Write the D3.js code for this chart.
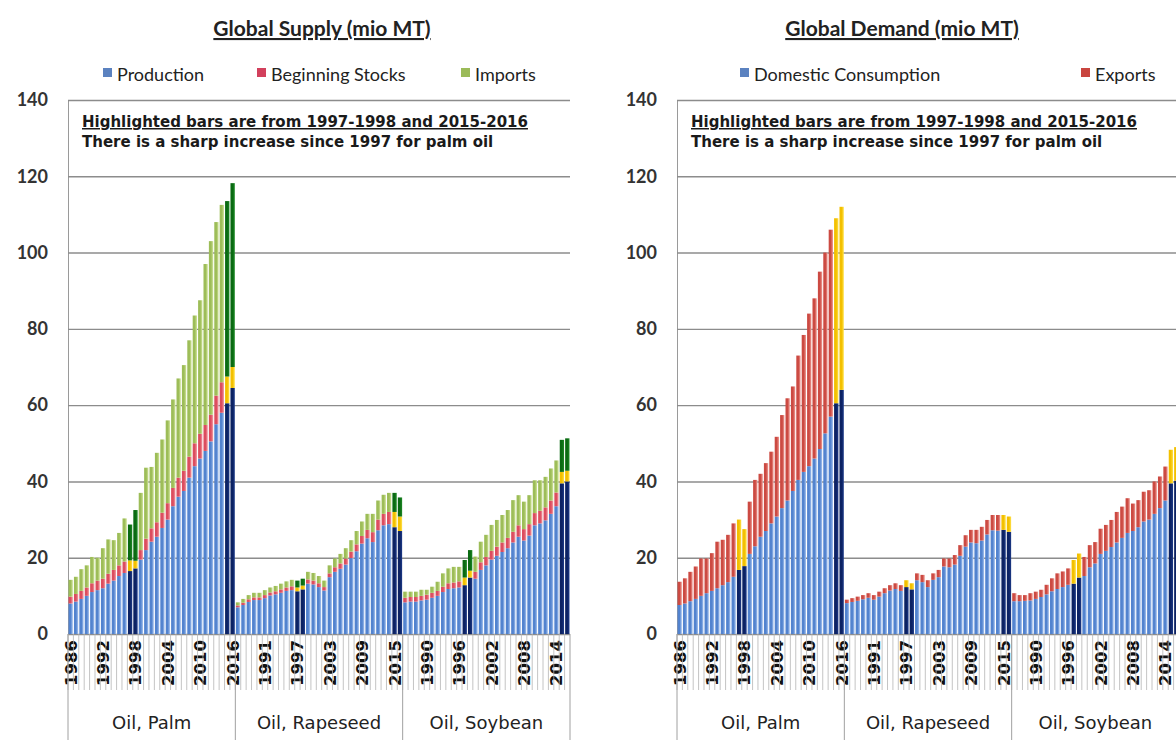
<!DOCTYPE html>
<html>
<head>
<meta charset="utf-8">
<script src="https://cdn.jsdelivr.net/npm/d3@7"></script>
<style>
  body { margin: 0; background: #fff; }
  svg { display: block; }
</style>
</head>
<body>
<div id="chart"></div>
<script>
// categories
const groups = ["Oil, Palm", "Oil, Rapeseed", "Oil, Soybean"];
const years = [1986, 1987, 1988, 1989, 1990, 1991, 1992, 1993, 1994, 1995, 1996, 1997, 1998, 1999, 2000, 2001,
               2002, 2003, 2004, 2005, 2006, 2007, 2008, 2009, 2010, 2011, 2012, 2013, 2014, 2015, 2016];
const highlightYears = [1997, 1998, 2015, 2016];
const yTicks = [0, 20, 40, 60, 80, 100, 120, 140];

// global supply (mio MT)
const palmProduction = [8.0, 8.5, 9.2, 10.0, 11.0, 11.5, 12.0, 13.2, 14.0, 15.2, 16.0, 16.5, 17.2, 19.5, 22.0, 24.2,
                        25.5, 27.8, 30.0, 33.5, 36.0, 37.5, 41.0, 44.0, 46.0, 48.0, 50.5, 55.0, 58.0, 60.5, 64.5];
const palmStocks     = [1.8, 2.0, 2.1, 2.2, 2.3, 2.5, 2.5, 2.6, 2.8, 2.8, 3.0, 2.8, 2.0, 2.5, 3.0, 3.5,
                        3.8, 4.0, 4.3, 4.8, 5.0, 5.3, 5.5, 6.0, 6.5, 6.8, 7.0, 7.5, 8.0, 7.0, 5.5];
const palmImports    = [4.4, 4.5, 5.7, 5.8, 6.9, 6.0, 8.0, 9.0, 7.8, 8.5, 11.3, 9.4, 13.3, 15.0, 18.6, 16.1,
                        18.2, 19.2, 21.7, 23.2, 26.0, 27.7, 30.5, 33.5, 35.0, 42.2, 45.5, 45.5, 46.5, 46.0, 48.2];

const rapeProduction = [7.0, 7.6, 8.4, 8.9, 8.9, 9.4, 10.1, 10.4, 10.8, 11.3, 11.5, 11.2, 11.7, 13.2, 13.0, 12.3,
                        11.4, 14.9, 16.3, 17.1, 18.2, 19.9, 21.7, 23.7, 25.1, 24.1, 27.2, 28.5, 28.8, 28.0, 27.0];
const rapeStocks     = [0.5, 0.6, 0.7, 0.7, 0.7, 0.8, 0.8, 0.8, 0.9, 0.9, 1.0, 1.0, 1.0, 1.1, 1.0, 1.0,
                        0.9, 1.0, 1.2, 1.4, 1.6, 1.7, 1.8, 2.0, 2.2, 2.6, 2.8, 3.0, 3.2, 4.0, 3.8];
const rapeImports    = [0.8, 1.0, 1.1, 1.2, 1.2, 1.3, 1.3, 1.4, 1.5, 1.6, 1.7, 1.8, 1.8, 2.0, 2.0, 1.9,
                        1.7, 2.1, 2.3, 2.5, 2.7, 3.0, 3.5, 3.8, 4.2, 4.8, 5.0, 5.0, 5.0, 5.0, 5.0];

const soyProduction  = [8.3, 8.5, 8.5, 8.8, 9.0, 9.5, 10.0, 11.0, 11.8, 12.0, 12.2, 12.8, 14.8, 14.5, 16.8, 18.0,
                        19.5, 20.5, 21.5, 22.5, 24.0, 25.5, 24.5, 25.8, 28.5, 29.0, 29.8, 31.5, 33.5, 39.5, 40.0];
const soyStocks      = [1.2, 1.2, 1.2, 1.2, 1.3, 1.3, 1.3, 1.4, 1.5, 1.5, 1.6, 2.0, 1.8, 1.8, 2.0, 2.2,
                        2.3, 2.4, 2.5, 2.7, 2.8, 3.0, 3.0, 3.0, 3.2, 3.3, 3.4, 3.5, 3.6, 3.0, 2.8];
const soyImports     = [1.6, 1.4, 1.4, 1.6, 1.3, 1.6, 2.4, 3.5, 3.9, 4.1, 3.8, 4.6, 5.4, 4.0, 5.4, 5.8,
                        6.8, 7.0, 7.2, 7.3, 8.3, 7.9, 7.2, 7.6, 8.6, 8.0, 8.0, 8.4, 8.4, 8.4, 8.5];

// global demand (mio MT)
const palmConsumption = [7.6, 8.0, 8.6, 9.2, 10.0, 10.7, 11.3, 12.0, 12.8, 13.6, 15.0, 16.8, 17.8, 21.0, 23.0, 25.5,
                         27.0, 29.0, 30.8, 33.0, 35.0, 37.5, 40.4, 42.5, 44.0, 46.0, 48.5, 52.6, 57.0, 60.5, 64.0];
const palmExports     = [6.1, 6.6, 7.7, 8.5, 9.8, 9.1, 9.9, 12.2, 11.9, 12.4, 14.0, 13.2, 9.7, 13.7, 17.4, 16.5,
                         17.8, 18.8, 20.9, 24.4, 26.8, 27.4, 32.6, 35.9, 40.0, 42.0, 46.5, 47.4, 49.0, 48.5, 48.0];

const rapeConsumption = [8.1, 8.4, 8.7, 9.1, 9.5, 9.0, 9.8, 10.7, 11.4, 11.8, 11.3, 12.3, 11.7, 14.1, 13.6, 12.3,
                         14.2, 14.9, 17.7, 17.5, 18.2, 20.5, 22.9, 24.0, 23.8, 24.5, 26.1, 27.2, 27.1, 27.3, 26.8];
const rapeExports     = [0.9, 1.0, 1.1, 1.1, 1.2, 1.2, 1.3, 1.3, 1.4, 1.5, 1.5, 1.8, 1.6, 1.8, 1.9, 1.8,
                         1.7, 1.9, 2.1, 2.3, 2.5, 2.8, 3.0, 3.3, 3.5, 3.6, 3.8, 4.0, 4.1, 3.9, 4.0];

const soyConsumption  = [8.6, 8.6, 8.7, 8.8, 9.2, 9.7, 10.4, 11.2, 11.8, 12.3, 12.9, 13.2, 14.8, 15.2, 17.5, 18.5,
                         21.0, 21.8, 22.8, 24.0, 25.2, 26.5, 27.0, 28.0, 29.5, 30.0, 31.5, 33.0, 35.0, 39.5, 40.2];
const soyExports      = [2.1, 1.6, 1.5, 1.9, 1.9, 1.9, 2.5, 3.4, 4.1, 4.1, 4.3, 6.2, 6.3, 5.0, 5.8, 5.6,
                         6.6, 6.8, 7.1, 8.0, 8.2, 9.1, 7.2, 7.1, 7.8, 7.7, 8.5, 8.3, 8.9, 8.8, 8.8];

const width = 1176, height = 747;
const plotW = 502, plotTop = 100, plotBottom = 634;
const labelFont = "'DejaVu Sans', Verdana, sans-serif";
const calFont = "Lato, 'Liberation Sans', sans-serif";

const svg = d3.select("#chart").append("svg")
    .attr("width", width)
    .attr("height", height);

const defs = svg.append("defs");
function grad(id, c0, c1) {
  const lg = defs.append("linearGradient").attr("id", id)
      .attr("x1", "0").attr("x2", "1").attr("y1", "0").attr("y2", "0");
  lg.append("stop").attr("offset", "0%").attr("stop-color", c0);
  lg.append("stop").attr("offset", "50%").attr("stop-color", c0);
  lg.append("stop").attr("offset", "100%").attr("stop-color", c1);
}
grad("g-blue", "#5283cf", "#aac6f0");
grad("g-pink", "#dc4d5e", "#f3a2ab");
grad("g-green", "#9dbd58", "#d3e69f");
grad("g-red", "#cc4a42", "#f0a09a");
grad("h-navy", "#0c2263", "#1d3a88");
grad("h-yellow", "#f3c000", "#ffe24d");
grad("h-green", "#0a6a12", "#1e8a26");

function buildRows(seriesByGroup, keys) {
  const rows = [];
  groups.forEach((g, gi) => {
    years.forEach((yr, i) => {
      const row = {key: g + "|" + yr, group: g, year: yr};
      keys.forEach((k, ki) => { row[k] = seriesByGroup[gi][ki][i]; });
      rows.push(row);
    });
  });
  return rows;
}

function drawPanel(cfg) {
  const g = svg.append("g").attr("transform", `translate(${cfg.left},0)`);
  const rows = buildRows(cfg.series, cfg.keys);

  const x = d3.scaleBand().domain(rows.map(d => d.key)).range([0, plotW]).padding(0);
  const y = d3.scaleLinear().domain([0, 140]).range([plotBottom, plotTop]);
  const bw = x.bandwidth();

  // gridlines + y labels
  const yAxis = g.append("g")
      .call(d3.axisLeft(y).tickValues(yTicks).tickSize(-plotW).tickSizeOuter(0).tickPadding(20));
  yAxis.select(".domain").attr("stroke", "#9a9a9a").attr("stroke-width", 1);
  yAxis.selectAll(".tick line").attr("stroke", "#8c8c8c").attr("stroke-width", 1.4);
  yAxis.selectAll(".tick text")
      .attr("fill", "#333").attr("font-family", calFont)
      .attr("font-weight", "bold").attr("font-size", 18);

  // stacked bars
  const stacked = d3.stack().keys(cfg.keys)(rows);
  g.append("g").selectAll("g")
    .data(stacked)
    .join("g")
    .each(function(layer, li) {
      d3.select(this).selectAll("rect")
        .data(layer)
        .join("rect")
          .attr("x", d => x(d.data.key) + bw * 0.1)
          .attr("width", bw * 0.8)
          .attr("y", d => y(d[1]))
          .attr("height", d => y(d[0]) - y(d[1]))
          .attr("fill", d => highlightYears.includes(d.data.year)
                ? `url(#${cfg.hiFills[li]})` : `url(#${cfg.fills[li]})`);
    });

  // category axis
  const labelKeys = rows.filter((d, i) => i % 6 === 0).map(d => d.key);
  const xAxis = g.append("g").attr("transform", `translate(0,${plotBottom})`)
      .call(d3.axisBottom(x).tickValues(labelKeys).tickSize(0).tickFormat(k => k.split("|")[1]));
  xAxis.select(".domain").remove();
  xAxis.selectAll(".tick text")
      .attr("transform", "rotate(-90)")
      .attr("text-anchor", "end")
      .attr("x", -6).attr("y", 0).attr("dy", "0.36em")
      .attr("fill", "#111")
      .attr("font-family", labelFont)
      .attr("font-weight", "bold").attr("font-size", 16.5);

  // tick separators between categories
  g.append("g").selectAll("line")
    .data(rows)
    .join("line")
      .attr("x1", d => x(d.key)).attr("x2", d => x(d.key))
      .attr("y1", plotBottom).attr("y2", plotBottom + 56)
      .attr("stroke", "#b5b5b5").attr("stroke-width", 0.8);

  // group separators and labels
  const groupEdges = groups.map(gr => x(gr + "|" + years[0])).concat([plotW]);
  g.append("g").selectAll("line")
    .data(groupEdges)
    .join("line")
      .attr("x1", d => d).attr("x2", d => d)
      .attr("y1", plotBottom).attr("y2", plotBottom + 106)
      .attr("stroke", "#a0a0a0").attr("stroke-width", 1);
  g.append("g").selectAll("text")
    .data(groups)
    .join("text")
      .attr("x", (d, i) => (groupEdges[i] + groupEdges[i + 1]) / 2)
      .attr("y", plotBottom + 95)
      .attr("text-anchor", "middle")
      .attr("fill", "#222")
      .attr("font-family", labelFont)
      .attr("font-size", 18)
      .text(d => d);

  // title
  svg.append("text")
      .attr("x", cfg.titleX).attr("y", 36)
      .attr("text-anchor", "middle")
      .attr("font-family", calFont)
      .attr("font-weight", "bold").attr("font-size", 21)
      .attr("fill", "#222")
      .style("text-decoration", "underline")
      .text(cfg.title);

  // legend
  const leg = svg.append("g");
  cfg.legend.forEach(item => {
    leg.append("rect")
        .attr("x", item.x).attr("y", 68).attr("width", 9).attr("height", 9)
        .attr("fill", item.color);
    leg.append("text")
        .attr("x", item.x + 14).attr("y", 81)
        .attr("font-family", calFont)
        .attr("font-size", 18).attr("fill", "#222")
        .text(item.name);
  });

  // note
  const note = g.append("g").attr("font-family", labelFont)
      .attr("font-weight", "bold").attr("font-size", 15).attr("fill", "#1a1a1a");
  note.append("text").attr("x", 14).attr("y", 127)
      .style("text-decoration", "underline")
      .text("Highlighted bars are from 1997-1998 and 2015-2016");
  note.append("text").attr("x", 14).attr("y", 147)
      .text("There is a sharp increase since 1997 for palm oil");
}

drawPanel({
  left: 68,
  title: "Global Supply (mio MT)",
  titleX: 322,
  keys: ["Production", "Beginning Stocks", "Imports"],
  series: [
    [palmProduction, palmStocks, palmImports],
    [rapeProduction, rapeStocks, rapeImports],
    [soyProduction, soyStocks, soyImports]
  ],
  fills: ["g-blue", "g-pink", "g-green"],
  hiFills: ["h-navy", "h-yellow", "h-green"],
  legend: [
    {name: "Production", color: "#5b82c0", x: 103},
    {name: "Beginning Stocks", color: "#d2405c", x: 257},
    {name: "Imports", color: "#9bbb59", x: 461}
  ]
});

drawPanel({
  left: 677,
  title: "Global Demand (mio MT)",
  titleX: 902,
  keys: ["Domestic Consumption", "Exports"],
  series: [
    [palmConsumption, palmExports],
    [rapeConsumption, rapeExports],
    [soyConsumption, soyExports]
  ],
  fills: ["g-blue", "g-red"],
  hiFills: ["h-navy", "h-yellow"],
  legend: [
    {name: "Domestic Consumption", color: "#5b82c0", x: 740},
    {name: "Exports", color: "#c9453f", x: 1081}
  ]
});
</script>
</body>
</html>
